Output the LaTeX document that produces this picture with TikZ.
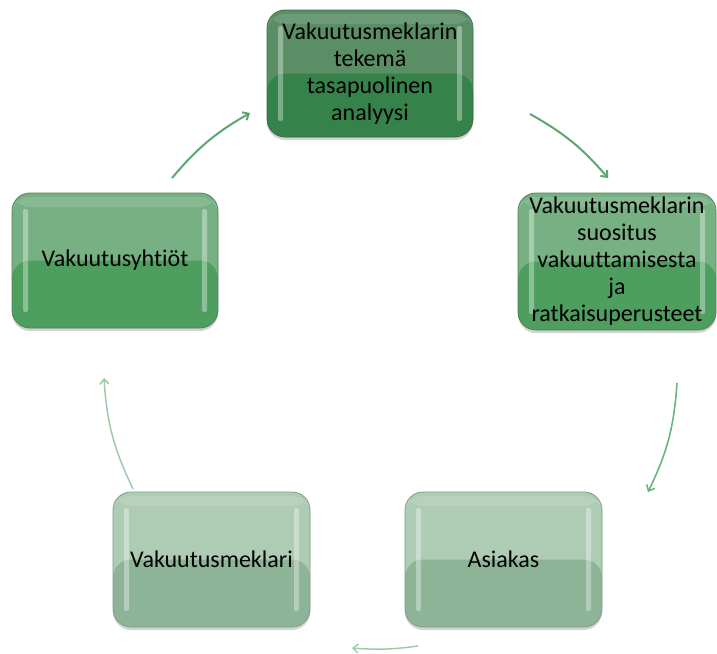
\documentclass[tikz,border=0pt]{standalone}
\usepackage{fontspec}
\setmainfont{Carlito}[Ligatures={NoCommon}]
\usetikzlibrary{arrows.meta,shadows,calc}
\definecolor{dTop}{HTML}{5A8E65}
\definecolor{dBot}{HTML}{35824A}
\definecolor{dEdge}{HTML}{3C6E48}
\definecolor{mTop}{HTML}{77B183}
\definecolor{mBot}{HTML}{4E9E60}
\definecolor{mEdge}{HTML}{4E8258}
\definecolor{pTop}{HTML}{AECBB4}
\definecolor{pBot}{HTML}{8DB497}
\definecolor{pEdge}{HTML}{7D9D84}
\definecolor{arA}{HTML}{5AA870}
\definecolor{arB}{HTML}{6BB381}
\definecolor{arC}{HTML}{9DCBA9}
\tikzset{
  glassbox/.style n args={3}{
    rectangle, rounded corners=18pt, draw=#3, line width=0.8pt,
    fill=#1, align=center, inner sep=0pt,
    font=\fontsize{24}{27}\selectfont, text=black,
    drop shadow={opacity=0.35, shadow xshift=0pt, shadow yshift=-3pt},
    path picture={
      \fill[#2] (path picture bounding box.west) rectangle (path picture bounding box.south east);
      \fill[white, opacity=0.35, rounded corners=2pt]
        ($(path picture bounding box.south west)+(11pt,16pt)$) rectangle ($(path picture bounding box.north west)+(16pt,-16pt)$);
      \fill[white, opacity=0.35, rounded corners=2pt]
        ($(path picture bounding box.south east)+(-16pt,16pt)$) rectangle ($(path picture bounding box.north east)+(-11pt,-16pt)$);
      \fill[white, opacity=0.12]
        ($(path picture bounding box.north west)+(0,-4pt)$) rectangle ($(path picture bounding box.north east)+(0,-14pt)$);
    }
  },
  cyc/.style={line width=#1, -{Straight Barb[length=5pt,width=9pt]}},
}
\begin{document}
\begin{tikzpicture}[x=1pt,y=-1pt]
\useasboundingbox (0,0) rectangle (717,653);
\node[glassbox={dTop}{dBot}{dEdge}, minimum width=206pt, minimum height=127pt] (top) at (370,73.5)
  {Vakuutusmeklarin\\tekemä\\tasapuolinen\\analyysi};
\node[glassbox={mTop}{mBot}{mEdge}, minimum width=198pt, minimum height=137pt] (right) at (617,261.5)
  {Vakuutusmeklarin\\suositus\\vakuuttamisesta\\ja\\ratkaisuperusteet};
\node[glassbox={mTop}{mBot}{mEdge}, minimum width=206pt, minimum height=135pt] (left) at (115,260.5)
  {Vakuutusyhtiöt};
\node[glassbox={pTop}{pBot}{pEdge}, minimum width=197pt, minimum height=135pt] (broker) at (211.5,559.5)
  {Vakuutusmeklari};
\node[glassbox={pTop}{pBot}{pEdge}, minimum width=197pt, minimum height=135pt] (client) at (503.5,559.5)
  {Asiakas};
\coordinate (a1s) at (172,178); \coordinate (a1e) at (250,113);
\coordinate (a2s) at (530,114); \coordinate (a2e) at (608,178);
\coordinate (a3s) at (677,383); \coordinate (a3e) at (648,492);
\coordinate (a4s) at (418,646); \coordinate (a4e) at (352,648);
\coordinate (a5s) at (133,489); \coordinate (a5e) at (104,378);
\draw[cyc=2pt, arA] (a1s) to[bend left=10] (a1e);
\draw[cyc=2pt, arA] (a2s) to[bend left=10] (a2e);
\draw[cyc=1.6pt, arB] (a3s) to[bend left=11] (a3e);
\draw[cyc=1.5pt, arC] (a4s) to[bend left=6] (a4e);
\draw[cyc=1.5pt, arC] (a5s) to[bend left=11] (a5e);
\end{tikzpicture}
\end{document}
